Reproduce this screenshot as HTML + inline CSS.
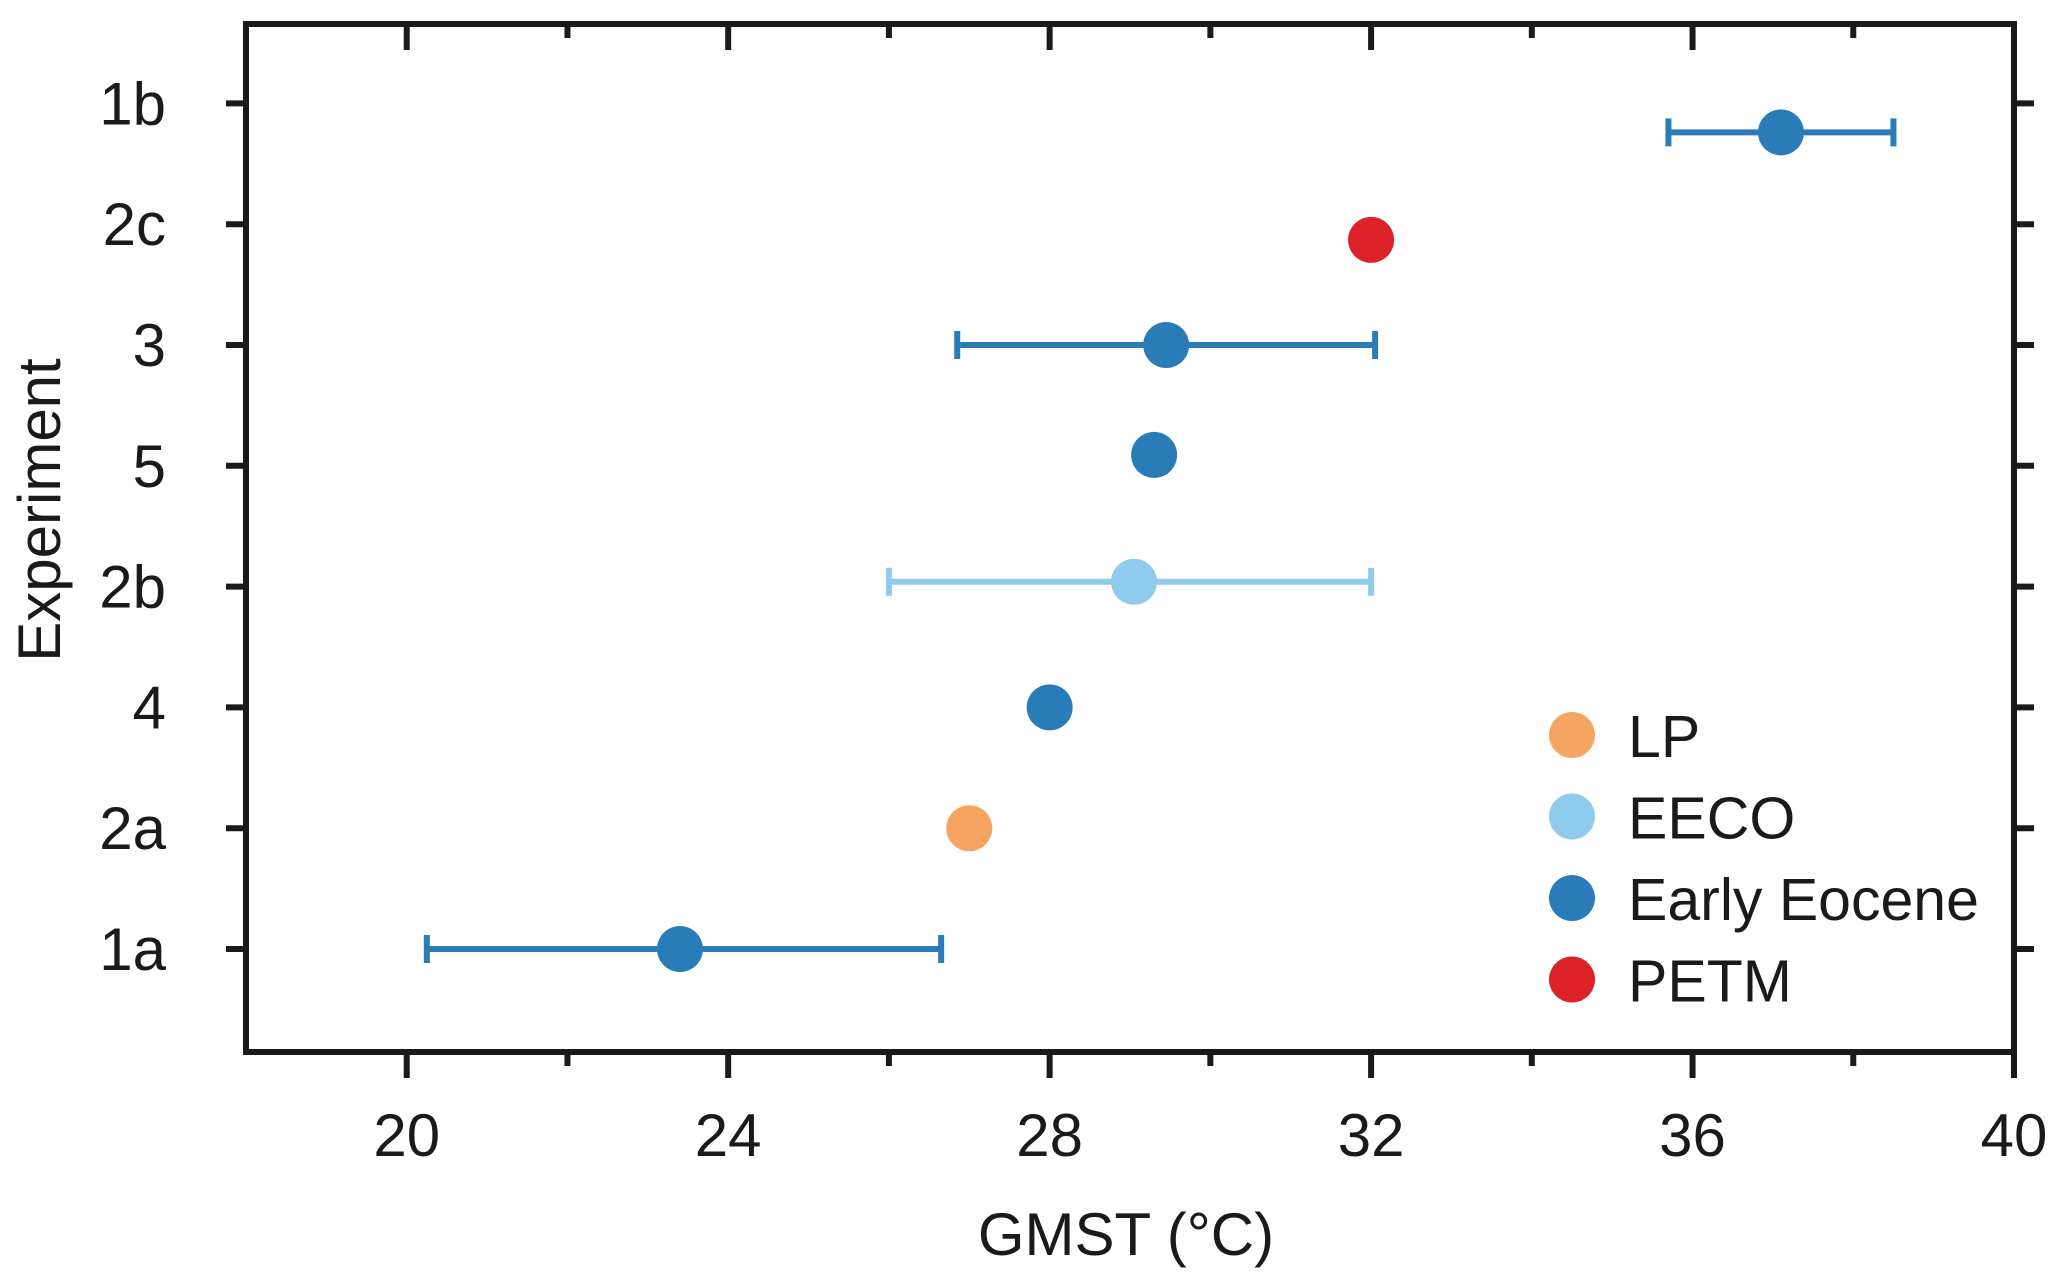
<!DOCTYPE html>
<html><head><meta charset="utf-8"><style>
html,body{margin:0;padding:0;background:#fff;}
svg{display:block;font-family:"Liberation Sans",Arial,sans-serif;}
</style></head><body>
<svg id="chart" width="2067" height="1277" viewBox="0 0 2067 1277" xmlns="http://www.w3.org/2000/svg"></svg>
<script>
const categories = ["1a","2a","4","2b","5","3","2c","1b"];
const pointLabels = ["1b","2c","3","5","2b","4","2a","1a"];
const pointPos = [6.76, 5.87, 5.0, 4.09, 3.04, 2.0, 1.0, 0.0];
const gmst = [37.1, 32.0, 29.45, 29.3, 29.05, 28.0, 27.0, 23.4];
const errLow = [35.7, null, 26.85, null, 26.0, null, null, 20.25];
const errHigh = [38.5, null, 32.05, null, 32.0, null, null, 26.65];
const seriesOf = ["Early Eocene","PETM","Early Eocene","Early Eocene","EECO","Early Eocene","LP","Early Eocene"];
const legendNames = ["LP","EECO","Early Eocene","PETM"];
const xTicks = [20,24,28,32,36,40];
const xMinor = [22,26,30,34,38];

const colors = {"LP":"#f5a561","EECO":"#8fcbec","Early Eocene":"#2a7cb8","PETM":"#dc2129"};
const L=246,R=2014,T=24,B=1052;
const xMin=18,xMax=40;
const x=v=>L+(v-xMin)/(xMax-xMin)*(R-L);
const y0=949, dy=120.8;
const y=i=>y0-i*dy;
const svg=document.getElementById('chart');
const NS="http://www.w3.org/2000/svg";
function mk(tag,attrs,parent){const e=document.createElementNS(NS,tag);for(const k in attrs)e.setAttribute(k,attrs[k]);(parent||svg).appendChild(e);return e;}

const axes=mk('g',{});


const frame=mk('rect',{x:L,y:T,width:R-L,height:B-T,fill:'none',stroke:'#1a1a1a','stroke-width':6},axes);



xTicks.forEach(v=>{
  const t=mk('line',{x1:x(v),x2:x(v),y1:B,y2:B+26,stroke:'#1a1a1a','stroke-width':6},axes);
  
  
  const t2=mk('line',{x1:x(v),x2:x(v),y1:T,y2:T+26,stroke:'#1a1a1a','stroke-width':6},axes);
  
  
  const lb=mk('text',{x:x(v),y:1156,'text-anchor':'middle','font-size':60,fill:'#1a1a1a'},axes);
  lb.textContent=v;
  
  
});
xMinor.forEach(v=>{
  const t=mk('line',{x1:x(v),x2:x(v),y1:B,y2:B+14,stroke:'#1a1a1a','stroke-width':6},axes);
  
  
  const t2=mk('line',{x1:x(v),x2:x(v),y1:T,y2:T+14,stroke:'#1a1a1a','stroke-width':6},axes);
  
  
});
categories.forEach((c,i)=>{
  const t=mk('line',{x1:L-20,x2:L,y1:y(i),y2:y(i),stroke:'#1a1a1a','stroke-width':6},axes);
  
  
  const t2=mk('line',{x1:R,x2:R+20,y1:y(i),y2:y(i),stroke:'#1a1a1a','stroke-width':6},axes);
  
  
  const lb=mk('text',{x:166,y:y(i)+21,'text-anchor':'end','font-size':60,fill:'#1a1a1a'},axes);
  lb.textContent=c;
  
  
});
const xt=mk('text',{x:1126,y:1255,'text-anchor':'middle','font-size':60,fill:'#1a1a1a'});
xt.textContent='GMST (°C)';


const yt=mk('text',{x:0,y:0,'text-anchor':'middle','font-size':60,fill:'#1a1a1a',transform:'translate(60,510) rotate(-90)'});
yt.textContent='Experiment';



const pts=mk('g',{});


gmst.forEach((v,i)=>{
  const col=colors[seriesOf[i]];
  const cy=y(pointPos[i]);
  if(errLow[i]!==null){
    const eb=mk('g',{stroke:col,'stroke-width':6},pts);
    
    
    mk('line',{x1:x(errLow[i]),x2:x(errHigh[i]),y1:cy,y2:cy},eb);
    mk('line',{x1:x(errLow[i]),x2:x(errLow[i]),y1:cy-14,y2:cy+14},eb);
    mk('line',{x1:x(errHigh[i]),x2:x(errHigh[i]),y1:cy-14,y2:cy+14},eb);
  }
  const c=mk('circle',{cx:x(v),cy:cy,r:23,fill:col},pts);
  
  
});

const lg=mk('g',{});


legendNames.forEach((n,i)=>{
  const ly=735+i*81.5;
  const e=mk('g',{},lg);
  
  
  mk('circle',{cx:1572,cy:ly,r:23,fill:colors[n]},e);
  const t=mk('text',{x:1628,y:ly+22,'font-size':59,fill:'#1a1a1a'},e);
  t.textContent=n;
});
</script>
</body></html>
